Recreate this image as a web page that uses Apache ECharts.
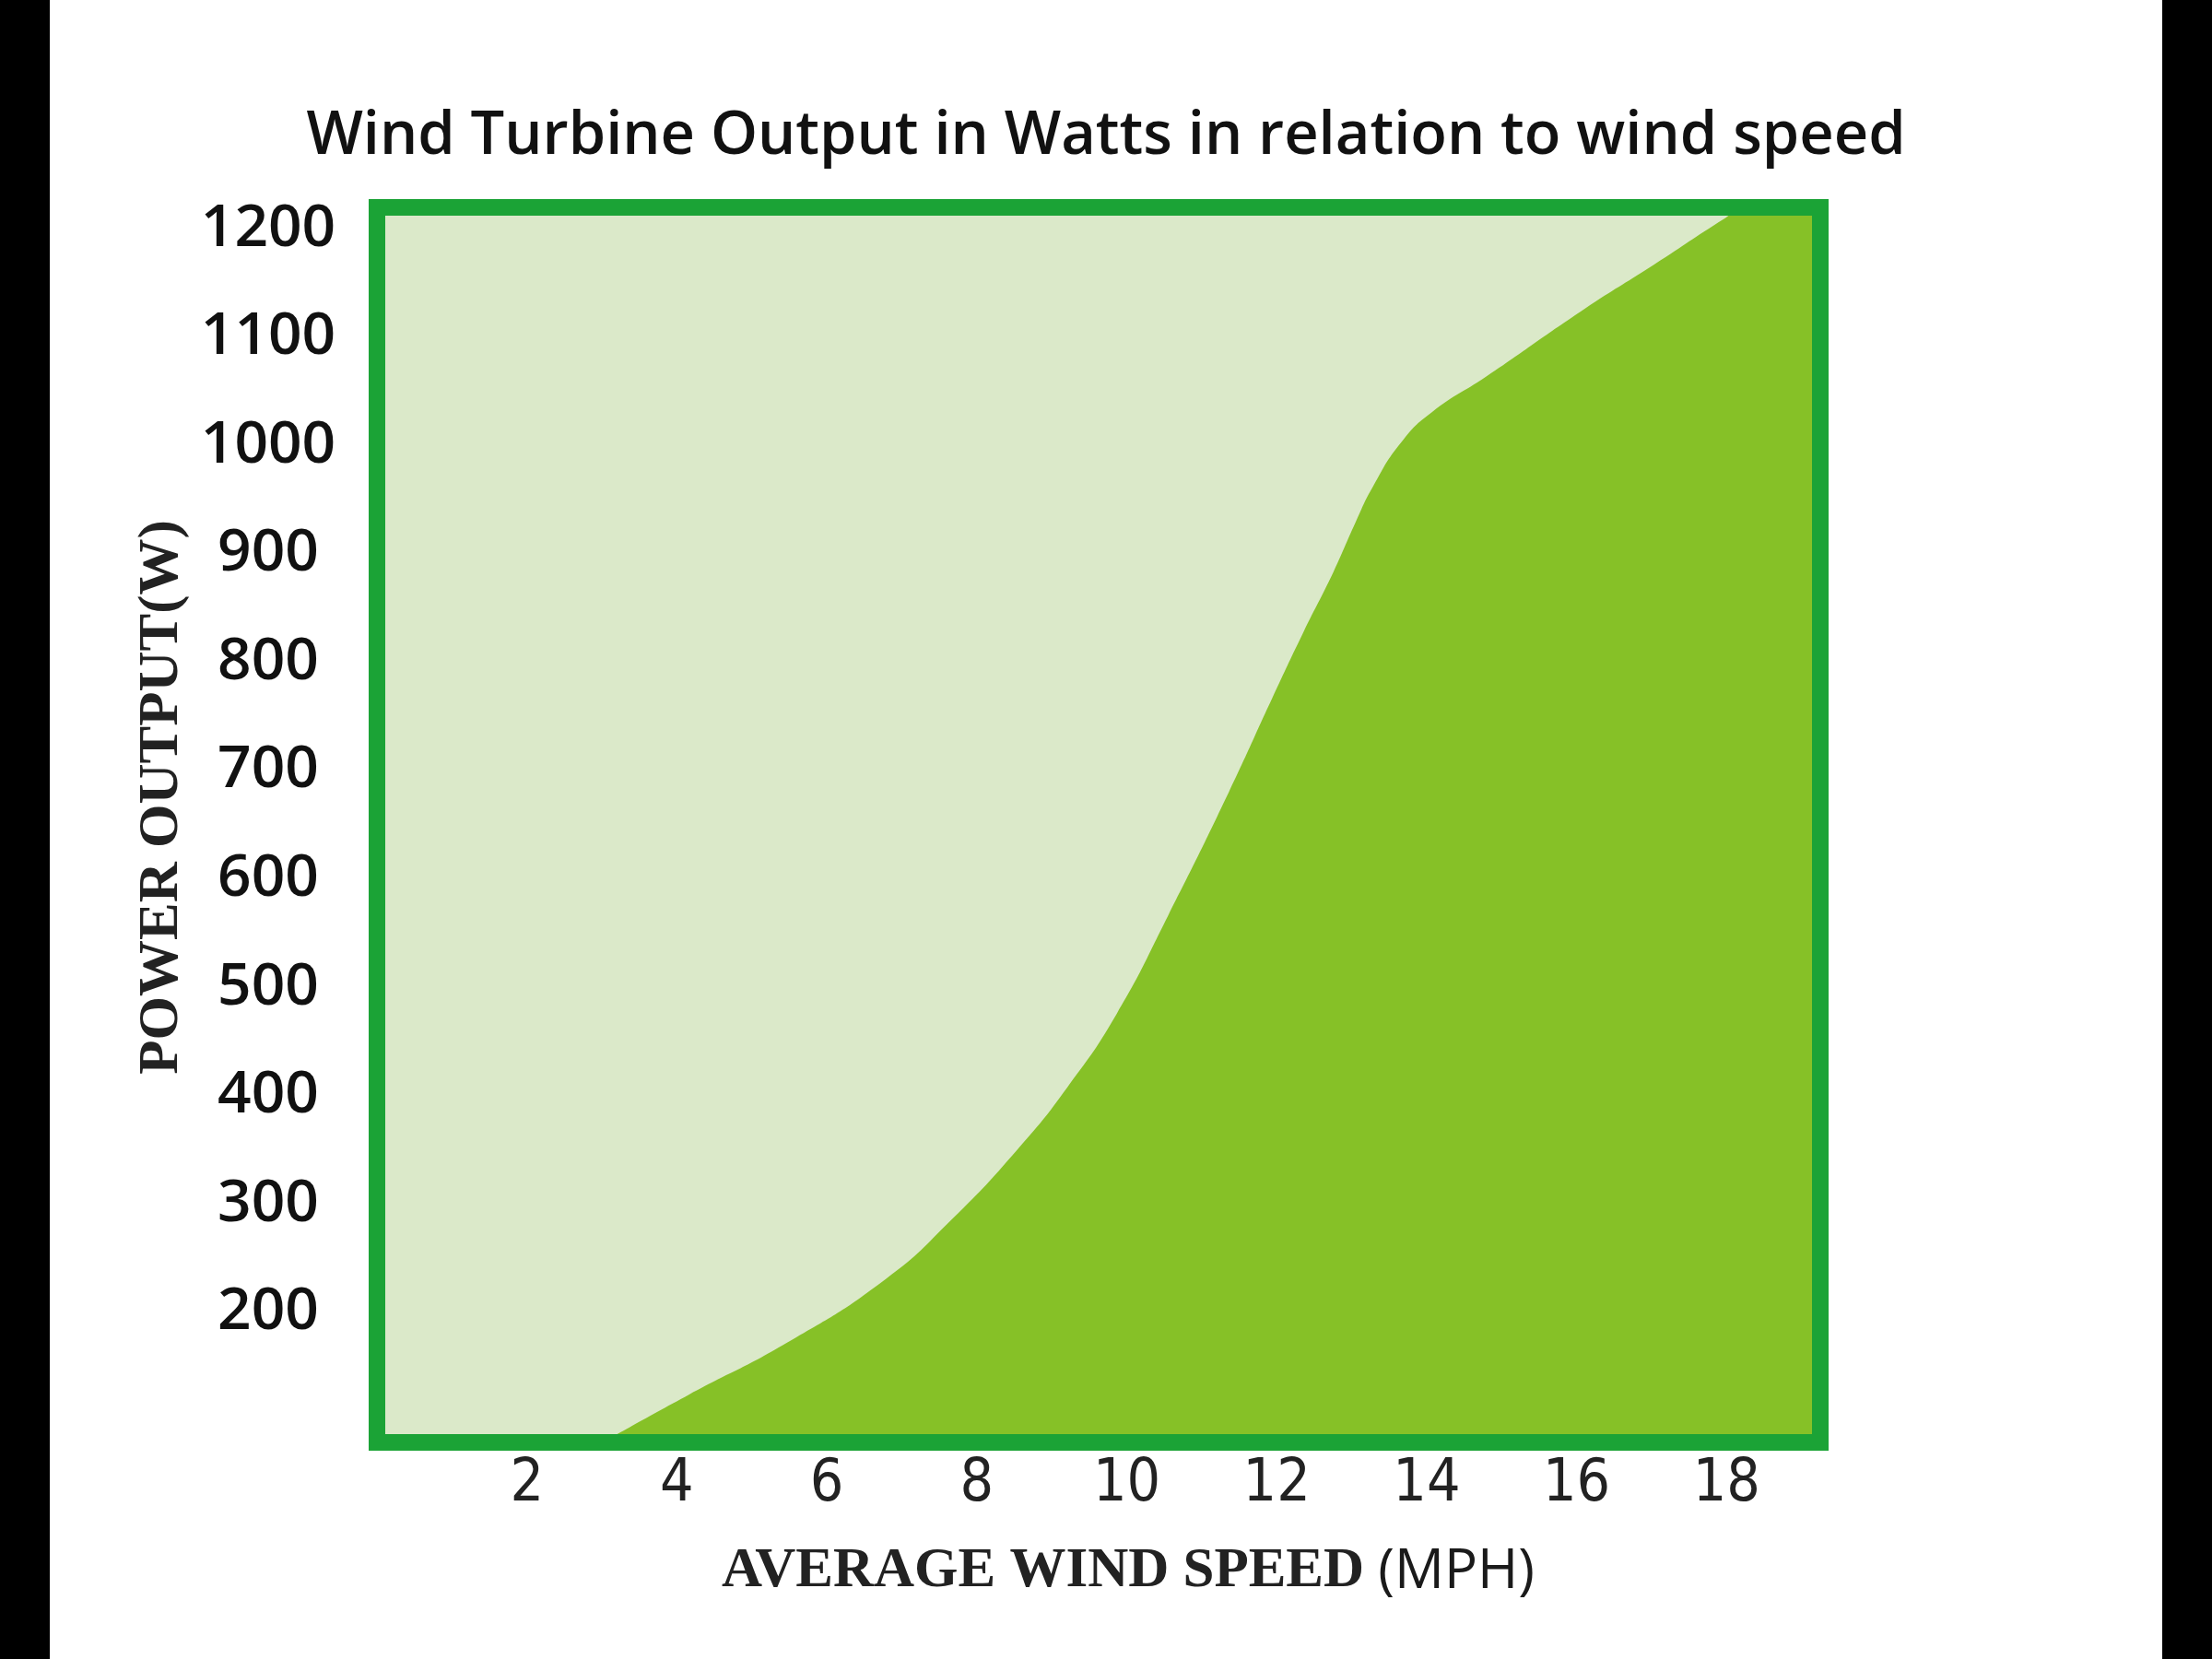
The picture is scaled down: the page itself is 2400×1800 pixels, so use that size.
<!DOCTYPE html>
<html>
<head>
<meta charset="utf-8">
<title>Wind Turbine Output</title>
<script src="https://cdn.jsdelivr.net/npm/echarts@6.0.0/dist/echarts.min.js"></script>
<style>
	html, body { margin: 0; padding: 0; background: #fff; }
	#wrap { position: relative; width: 2400px; height: 1800px; }
	#chart { width: 2400px; height: 1800px; background: #fff; }
	.edge { position: absolute; top: 0; width: 54px; height: 1800px; background: #000; }
	#edgeL { left: 0; }
	#edgeR { right: 0; }
</style>
</head>
<body>
<div id="wrap">
	<div id="chart"></div>
	<div class="edge" id="edgeL"></div>
	<div class="edge" id="edgeR"></div>
</div>
<script>
// wind speed (mph) and turbine output (W)
const windSpeed = [3.01, 4.16, 5.47, 6.79, 7.67, 8.55, 9.21, 9.87, 10.55, 11.36, 11.94, 12.35, 12.76, 13.05, 13.29, 13.66, 14.07, 14.8, 16.1, 17.03, 17.98, 18.25, 19.25]
const powerOut = [80, 124, 172, 231, 286, 351, 408, 476, 566, 680, 767, 827, 884, 929, 963, 1003, 1031, 1064, 1126, 1167, 1210, 1220, 1220]

const xTicks = [2, 4, 6, 8, 10, 12, 14, 16, 18]
const yTicks = [200, 300, 400, 500, 600, 700, 800, 900, 1000, 1100, 1200]

const BORDER = '#1ba336'
const LIGHT = '#dbe9c9'
const DARK = '#86c127'

const edgeLine = {
	show: true,
	onZero: false,
	lineStyle: { color: BORDER, width: 18, cap: 'square' }
}

const chart = echarts.init(document.getElementById('chart'))

const options = {
	backgroundColor: '#fff',
	animation: false,
	title: {
		text: 'Wind Turbine Output in Watts in relation to wind speed',
		left: 'center',
		top: 111,
		textStyle: {
			fontFamily: 'Open Sans',
			fontSize: 65,
			fontWeight: 600,
			color: '#111'
		}
	},
	grid: {
		left: 409,
		right: 425,
		top: 225,
		bottom: 235,
		show: true,
		backgroundColor: LIGHT,
		borderWidth: 0
	},
	xAxis: [
		{
			type: 'value',
			min: 0,
			max: 19.25,
			z: 10,
			axisLine: edgeLine,
			axisTick: { show: false },
			splitLine: { show: false },
			axisLabel: {
				customValues: xTicks,
				margin: 14,
				fontFamily: "'Liberation Sans Narrow', 'DejaVu Sans Condensed', 'Open Sans', sans-serif",
				fontSize: 64,
				color: '#222'
			},
			name: '{serif|AVERAGE WIND SPEED }{sans|(MPH)}',
			nameLocation: 'middle',
			nameGap: 110,
			nameTextStyle: {
				padding: [0, 0, 0, 64],
				rich: {
					serif: {
						fontFamily: "'Liberation Serif', serif",
						fontWeight: 'bold',
						fontSize: 61,
						color: '#222'
					},
					sans: {
						fontFamily: 'Open Sans',
						fontSize: 60,
						fontWeight: 500,
						color: '#1a1a1a'
					}
				}
			}
		},
		{
			type: 'value',
			position: 'top',
			min: 0,
			max: 19.25,
			z: 10,
			axisLine: edgeLine,
			axisTick: { show: false },
			axisLabel: { show: false },
			splitLine: { show: false }
		}
	],
	yAxis: [
		{
			type: 'value',
			min: 80,
			max: 1220,
			z: 10,
			axisLine: edgeLine,
			axisTick: { show: false },
			splitLine: { show: false },
			axisLabel: {
				customValues: yTicks,
				formatter: v => String(v),
				align: 'center',
				margin: 118,
				fontFamily: 'Open Sans',
				fontSize: 64,
				fontWeight: 600,
				color: '#111'
			},
			name: 'POWER OUTPUT(W)',
			nameLocation: 'middle',
			nameGap: 196,
			nameTextStyle: {
				padding: [0, 0, 0, 60],
				fontFamily: "'Liberation Serif', serif",
				fontWeight: 'bold',
				fontSize: 61,
				color: '#222'
			}
		},
		{
			type: 'value',
			position: 'right',
			min: 80,
			max: 1220,
			z: 10,
			axisLine: edgeLine,
			axisTick: { show: false },
			axisLabel: { show: false },
			splitLine: { show: false }
		}
	],
	series: [
		{
			type: 'line',
			data: windSpeed.map((s, i) => [s, powerOut[i]]),
			smooth: 0.5,
			symbol: 'none',
			lineStyle: { width: 0 },
			areaStyle: { color: DARK, opacity: 1, origin: 'start' }
		}
	]
}

chart.setOption(options)
</script>
</body>
</html>
